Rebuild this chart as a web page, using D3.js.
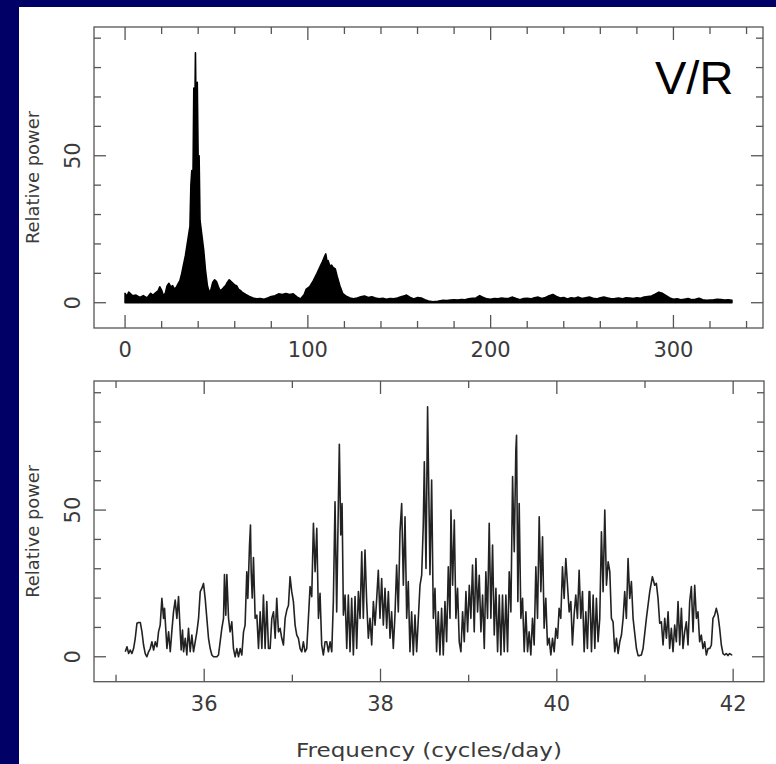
<!DOCTYPE html>
<html><head><meta charset="utf-8">
<script src="https://cdn.jsdelivr.net/npm/d3@7"></script>
<style>html,body{margin:0;padding:0;background:#000066;} svg{display:block}</style>
</head><body>
<svg id="chart" width="776" height="764"></svg>
<script>
// ---- data: full periodogram envelope (frequency c/d, relative power)
const spectrum = [[0,3.2],[1,2.2],[2,3.6],[3,3.0],[4,2.4],[6,2.6],[8,1.8],[10,2.4],[12,1.6],[14,3.2],[15,2.6],[16,3.0],[18,4.0],[19,5.4],[20,4.2],[21,2.4],[22,3.2],[23,5.8],[24,6.6],[25,5.4],[26,5.8],[27,4.6],[28,5.2],[29,6.4],[30,7.5],[31,10],[32,13],[33,16],[34,20],[35,24],[35.5,26],[36,40],[36.5,45],[37,35],[37.3,52],[37.6,73],[38,55],[38.5,85],[39,55],[39.5,75],[40,48],[40.5,50],[41,28],[42,23],[43,18],[44,11],[45,6],[46,3.5],[47,4.5],[48,7],[49,7.8],[50,7.2],[51,5.5],[52,4.0],[53,4.5],[54,5.2],[55,5.8],[56,7.0],[57,7.8],[58,7.2],[59,6.6],[60,6.0],[61,5.8],[62,4.6],[63,4.2],[64,3.6],[66,2.8],[68,2.1],[70,1.6],[72,1.3],[74,1.4],[76,1.2],[78,1.6],[80,2.1],[82,2.4],[84,3.0],[86,2.8],[88,3.1],[90,2.8],[92,3.0],[94,2.0],[96,1.3],[98,2.8],[99,4.5],[101,5.5],[103,7.5],[105,10],[106.5,12],[108,14],[109,15.5],[109.8,16.6],[110.5,14],[111.1,14.3],[112,12.5],[113,12.8],[113.8,12],[115,11.5],[116,9],[117.5,5.8],[119,3.2],[121,2.2],[123,1.6],[125,1.3],[127,1.6],[129,2.0],[131,2.3],[133,1.8],[135,2.0],[137,1.6],[139,1.3],[141,1.5],[143,1.2],[145,1.4],[147,1.3],[149,1.6],[151,2.0],[153,2.4],[154,2.6],[156,1.8],[158,1.3],[160,1.8],[162,1.6],[164,1.0],[166,0.6],[168.5,0.3],[171,0.5],[174,0.8],[176,0.7],[178,0.9],[180,1.0],[182,0.9],[184,1.1],[186,1.0],[188,1.3],[190,1.5],[192,1.6],[194,2.4],[196,1.8],[198,1.3],[200,1.2],[202,1.4],[204,1.3],[206,1.6],[208,1.4],[210,1.5],[212,1.9],[214,1.4],[216,1.0],[218,1.4],[220,1.5],[222,1.3],[224,1.7],[226,1.9],[228,1.4],[230,1.8],[232,2.4],[234,2.8],[236,2.1],[238,1.6],[240,1.8],[242,1.3],[244,1.7],[246,1.5],[248,1.9],[250,1.4],[252,1.7],[254,1.9],[256,1.5],[258,1.3],[260,1.7],[262,1.9],[264,1.6],[266,1.3],[268,1.4],[270,1.6],[272,1.3],[274,1.7],[276,1.6],[278,1.4],[280,1.7],[282,1.5],[284,1.9],[286,2.1],[288,2.3],[290,2.9],[292,3.6],[294,3.2],[296,2.4],[298,1.6],[300,1.2],[302,1.3],[304,1.0],[306,1.2],[308,1.4],[310,1.0],[312,1.2],[314,1.5],[316,1.0],[318,0.8],[320,0.9],[322,1.0],[324,1.2],[326,1.1],[328,0.9],[330,1.0],[332,0.8]];

// ---- data: zoomed periodogram 35-42 c/d, in four stretches
const detailA = [[35.105,1.7],[35.124,3.4],[35.143,1.1],[35.161,2.3],[35.180,1.1],[35.199,2.8],[35.218,6.3],[35.237,11.4],[35.256,11.7],[35.275,11.7],[35.294,8.5],[35.312,4.0],[35.331,1.1],[35.350,0.0],[35.369,1.7],[35.388,2.8],[35.407,5.1],[35.426,2.3],[35.445,5.1],[35.464,3.4],[35.482,8.5],[35.501,10.8],[35.520,19.9],[35.539,13.1],[35.550,16.5],[35.566,8.5],[35.577,2.8],[35.596,8.5],[35.615,1.7],[35.634,9.1],[35.652,15.3],[35.671,19.3],[35.690,13.1],[35.709,20.5],[35.728,8.5],[35.739,2.3],[35.754,9.1],[35.766,1.7],[35.785,6.3],[35.803,0.6],[35.822,9.7],[35.841,1.7],[35.860,7.4],[35.879,1.7],[35.898,5.1],[35.917,8.5],[35.936,13.1],[35.955,22.2],[35.973,23.3],[35.992,25.0],[36.011,19.9],[36.030,13.1],[36.049,6.3],[36.068,2.8],[36.087,0.6],[36.106,0.0],[36.143,0.0],[36.162,0.6],[36.181,5.1],[36.200,9.7],[36.219,13.1],[36.230,28.0],[36.245,14.2],[36.257,28.0],[36.276,13.1],[36.294,8.5],[36.313,11.9],[36.332,2.8],[36.351,0.0],[36.370,2.8],[36.389,0.0],[36.408,2.8],[36.427,0.6],[36.446,8.5],[36.464,10.8],[36.483,29.0],[36.495,19.9],[36.514,38.0],[36.525,44.9],[36.533,29.0],[36.545,20.0],[36.559,33.8],[36.578,13.1],[36.597,14.2],[36.616,2.8],[36.635,15.3],[36.654,2.8],[36.672,21.0],[36.691,2.8],[36.710,18.8],[36.729,2.8]];
const detailB = [[36.748,2.8],[36.767,13.1],[36.786,15.3],[36.805,6.3],[36.823,19.9],[36.842,8.5],[36.861,9.7],[36.880,6.3],[36.899,4.0],[36.918,13.1],[36.937,15.9],[36.956,17.6],[36.974,27.3],[36.993,22.2],[37.012,18.8],[37.031,10.8],[37.050,7.4],[37.069,6.3],[37.088,2.8],[37.107,1.7],[37.125,5.1],[37.144,1.7],[37.163,2.8],[37.182,13.1],[37.201,23.9],[37.220,20.5],[37.239,45.5],[37.258,29.0],[37.277,43.8],[37.296,13.1],[37.314,21.6],[37.333,4.0],[37.352,0.6],[37.371,5.1],[37.390,5.1],[37.409,1.7],[37.428,5.1],[37.447,1.7],[37.465,18.8],[37.484,52.8],[37.503,15.3],[37.522,52.8],[37.533,72.4],[37.549,41.5],[37.564,52.2],[37.579,14.2],[37.598,21.0],[37.617,2.8],[37.635,21.0],[37.654,1.7],[37.673,19.9],[37.692,0.6],[37.711,20.5],[37.730,2.8],[37.749,22.2],[37.768,13.1],[37.787,35.8],[37.805,13.1],[37.824,36.4],[37.843,18.8],[37.862,6.3],[37.881,13.1],[37.900,4.0],[37.919,18.8],[37.938,10.8],[37.957,19.9],[37.975,29.5],[37.994,13.1],[38.013,26.7],[38.032,10.8],[38.051,23.3],[38.070,9.7],[38.089,22.2],[38.108,6.3],[38.126,15.3],[38.145,2.8],[38.164,14.2],[38.183,31.3],[38.202,15.3],[38.221,42.6],[38.240,52.2],[38.259,24.4],[38.278,47.7],[38.297,13.1],[38.315,25.6],[38.334,1.7],[38.353,15.3],[38.372,0.6],[38.391,14.2],[38.410,1.7],[38.429,13.1],[38.448,24.4],[38.467,27.8],[38.485,44.9],[38.497,66.5],[38.516,30.1],[38.534,85.2]];
const detailC = [[38.561,28.0],[38.580,60.2],[38.599,13.1],[38.618,23.3],[38.636,1.7],[38.655,15.3],[38.674,0.6],[38.693,16.5],[38.712,0.6],[38.731,18.8],[38.750,5.1],[38.769,30.7],[38.788,13.1],[38.799,50.0],[38.818,24.4],[38.837,46.6],[38.855,13.1],[38.874,23.3],[38.893,5.1],[38.912,1.7],[38.931,15.3],[38.950,5.1],[38.969,22.2],[38.988,8.5],[39.007,24.4],[39.025,13.1],[39.044,31.3],[39.063,8.5],[39.082,33.5],[39.101,15.3],[39.120,27.8],[39.139,8.5],[39.158,21.0],[39.177,2.8],[39.195,29.0],[39.214,13.1],[39.233,45.5],[39.252,13.1],[39.271,38.1],[39.290,7.4],[39.309,23.3],[39.328,1.7],[39.347,21.0],[39.365,0.6],[39.384,21.0],[39.403,1.7],[39.422,21.0],[39.441,1.7],[39.460,29.0],[39.479,15.3],[39.498,61.4],[39.517,35.8],[39.535,70.4],[39.543,75.5],[39.558,18.8],[39.573,52.2],[39.592,13.1],[39.611,19.9],[39.630,1.7],[39.649,15.3],[39.668,1.7],[39.686,8.5],[39.705,0.6],[39.724,13.1],[39.743,4.0],[39.762,30.7],[39.781,13.1],[39.800,47.7],[39.819,22.2],[39.838,40.9],[39.856,9.7],[39.875,19.9],[39.894,4.0],[39.913,6.3],[39.932,0.6],[39.951,6.3],[39.970,1.7],[39.989,9.7],[40.008,6.3],[40.026,16.5],[40.045,13.1],[40.064,30.7],[40.083,19.9],[40.102,33.5],[40.121,24.4],[40.140,15.3],[40.159,18.8],[40.177,4.0],[40.196,14.2],[40.215,21.0],[40.234,13.1],[40.253,29.5],[40.272,13.1],[40.291,22.2],[40.310,1.7],[40.329,15.3],[40.347,2.8],[40.366,22.2]];
const detailD = [[40.374,22.2],[40.393,1.7],[40.412,21.0],[40.431,2.8],[40.449,19.9],[40.468,5.1],[40.487,13.1],[40.506,42.6],[40.525,22.2],[40.544,50.0],[40.563,24.4],[40.582,32.4],[40.601,29.0],[40.619,13.1],[40.638,11.9],[40.657,1.7],[40.676,6.3],[40.695,1.1],[40.714,5.1],[40.733,7.4],[40.752,13.1],[40.770,22.2],[40.789,13.1],[40.808,33.5],[40.827,19.9],[40.846,25.6],[40.865,13.1],[40.884,7.9],[40.903,2.8],[40.922,0.4],[40.940,0.4],[40.959,0.6],[40.978,2.8],[41.016,13.1],[41.054,22.2],[41.084,27.3],[41.110,24.4],[41.129,25.0],[41.148,19.9],[41.167,11.4],[41.186,11.9],[41.205,4.0],[41.224,13.1],[41.243,6.3],[41.262,15.3],[41.280,2.8],[41.299,9.7],[41.318,1.7],[41.337,10.8],[41.356,5.1],[41.375,18.8],[41.394,4.0],[41.413,16.5],[41.431,2.8],[41.450,8.5],[41.469,11.9],[41.488,4.0],[41.507,18.8],[41.526,23.9],[41.545,8.5],[41.564,24.4],[41.583,13.1],[41.601,15.3],[41.620,5.1],[41.639,7.4],[41.658,2.8],[41.677,5.1],[41.696,0.6],[41.715,2.8],[41.734,2.8],[41.753,4.0],[41.771,13.1],[41.790,14.2],[41.809,16.5],[41.828,14.2],[41.847,9.7],[41.866,4.0],[41.885,1.1],[41.904,0.6],[41.922,1.1],[41.941,0.4],[41.960,1.1],[41.979,0.7],[41.990,0.6]];

// ---- ticks / labels
const topXMajor = [0, 100, 200, 300];
const topXMinor = [20, 40, 60, 80, 120, 140, 160, 180, 220, 240, 260, 280, 320, 340];
const botXMajor = [36, 38, 40, 42];
const botXMinor = [35, 37, 39, 41];
const yMajor = [0, 50];
const yMinor = [10, 20, 30, 40, 60, 70, 80, 90];
const yTitle = "Relative power";
const xTitle = "Frequency (cycles/day)";
const panelTag = "V/R";

// ---- layout
const svg = d3.select("#chart");
svg.append("rect").attr("x",0).attr("y",0).attr("width",776).attr("height",764).attr("fill","#000066");
svg.append("rect").attr("x",19).attr("y",7).attr("width",757).attr("height",757).attr("fill","#ffffff");

const frameColor = "#555";
const textColor = "#3a3a3a";
const font = "'DejaVu Sans', sans-serif";

const P1 = {left:94, right:763, top:27, bottom:328};
const P2 = {left:94, right:764, top:381, bottom:681.7};

const x1 = d3.scaleLinear().domain([-17, 349]).range([P1.left, P1.right]);
const y1 = d3.scaleLinear().domain([-8.6, 93.8]).range([P1.bottom, P1.top]);
const x2 = d3.scaleLinear().domain([34.75, 42.35]).range([P2.left, P2.right]);
const y2 = d3.scaleLinear().domain([-8.5, 94]).range([P2.bottom, P2.top]);

function drawFrame(P, x, y, xMaj, xMin, yMaj, yMin) {
  const g = svg.append("g");
  g.append("rect").attr("x",P.left).attr("y",P.top)
    .attr("width",P.right-P.left).attr("height",P.bottom-P.top)
    .attr("fill","none").attr("stroke",frameColor).attr("stroke-width",1.3);
  const tick = (x1_,y1_,x2_,y2_) => g.append("line").attr("x1",x1_).attr("y1",y1_).attr("x2",x2_).attr("y2",y2_)
      .attr("stroke",frameColor).attr("stroke-width",1.3);
  xMaj.forEach(v => { const px = x(v); tick(px,P.bottom,px,P.bottom-13); tick(px,P.top,px,P.top+13); });
  xMin.forEach(v => { const px = x(v); tick(px,P.bottom,px,P.bottom-7); tick(px,P.top,px,P.top+7); });
  yMaj.forEach(v => { const py = y(v); tick(P.left,py,P.left+12,py); tick(P.right,py,P.right-12,py); });
  yMin.forEach(v => { const py = y(v); tick(P.left,py,P.left+7,py); tick(P.right,py,P.right-7,py); });
  xMaj.forEach(v => g.append("text").attr("x",x(v)).attr("y",P.bottom+29)
      .attr("text-anchor","middle").attr("font-family",font).attr("font-size",21)
      .attr("fill",textColor).text(String(v)));
  yMaj.forEach(v => g.append("text").attr("transform",`translate(80,${y(v)}) rotate(-90)`)
      .attr("text-anchor","middle").attr("font-family",font).attr("font-size",21)
      .attr("fill",textColor).text(String(v)));
  g.append("text").attr("transform",`translate(39,${(P.top+P.bottom)/2}) rotate(-90)`)
    .attr("text-anchor","middle").attr("font-family",font).attr("font-size",18)
    .attr("textLength",133).attr("lengthAdjust","spacingAndGlyphs")
    .attr("fill",textColor).text(yTitle);
}

drawFrame(P1, x1, y1, topXMajor, topXMinor, yMajor, yMinor);
drawFrame(P2, x2, y2, botXMajor, botXMinor, yMajor, yMinor);

// top: filled periodogram
const area = d3.area().x(d => x1(d[0])).y0(y1(0)).y1(d => y1(d[1]));
svg.append("path").datum(spectrum).attr("d", area)
  .attr("fill","#000").attr("stroke","#000").attr("stroke-width",1.6).attr("stroke-linejoin","round");

// bottom: line periodogram
const detail = detailA.concat(detailB, detailC, detailD);
const line = d3.line().x(d => x2(d[0])).y(d => y2(d[1]));
svg.append("path").datum(detail).attr("d", line)
  .attr("fill","none").attr("stroke","#222").attr("stroke-width",1.6).attr("stroke-linejoin","round");

// texts
svg.append("text").attr("x",655).attr("y",94).attr("font-family","'Liberation Sans', Arial, sans-serif")
  .attr("font-size",47).attr("fill","#000").text(panelTag);
svg.append("text").attr("x",(P2.left+P2.right)/2).attr("y",757).attr("text-anchor","middle")
  .attr("font-family",font).attr("font-size",20).attr("textLength",266).attr("lengthAdjust","spacingAndGlyphs")
  .attr("fill",textColor).text(xTitle);
</script>
</body></html>
